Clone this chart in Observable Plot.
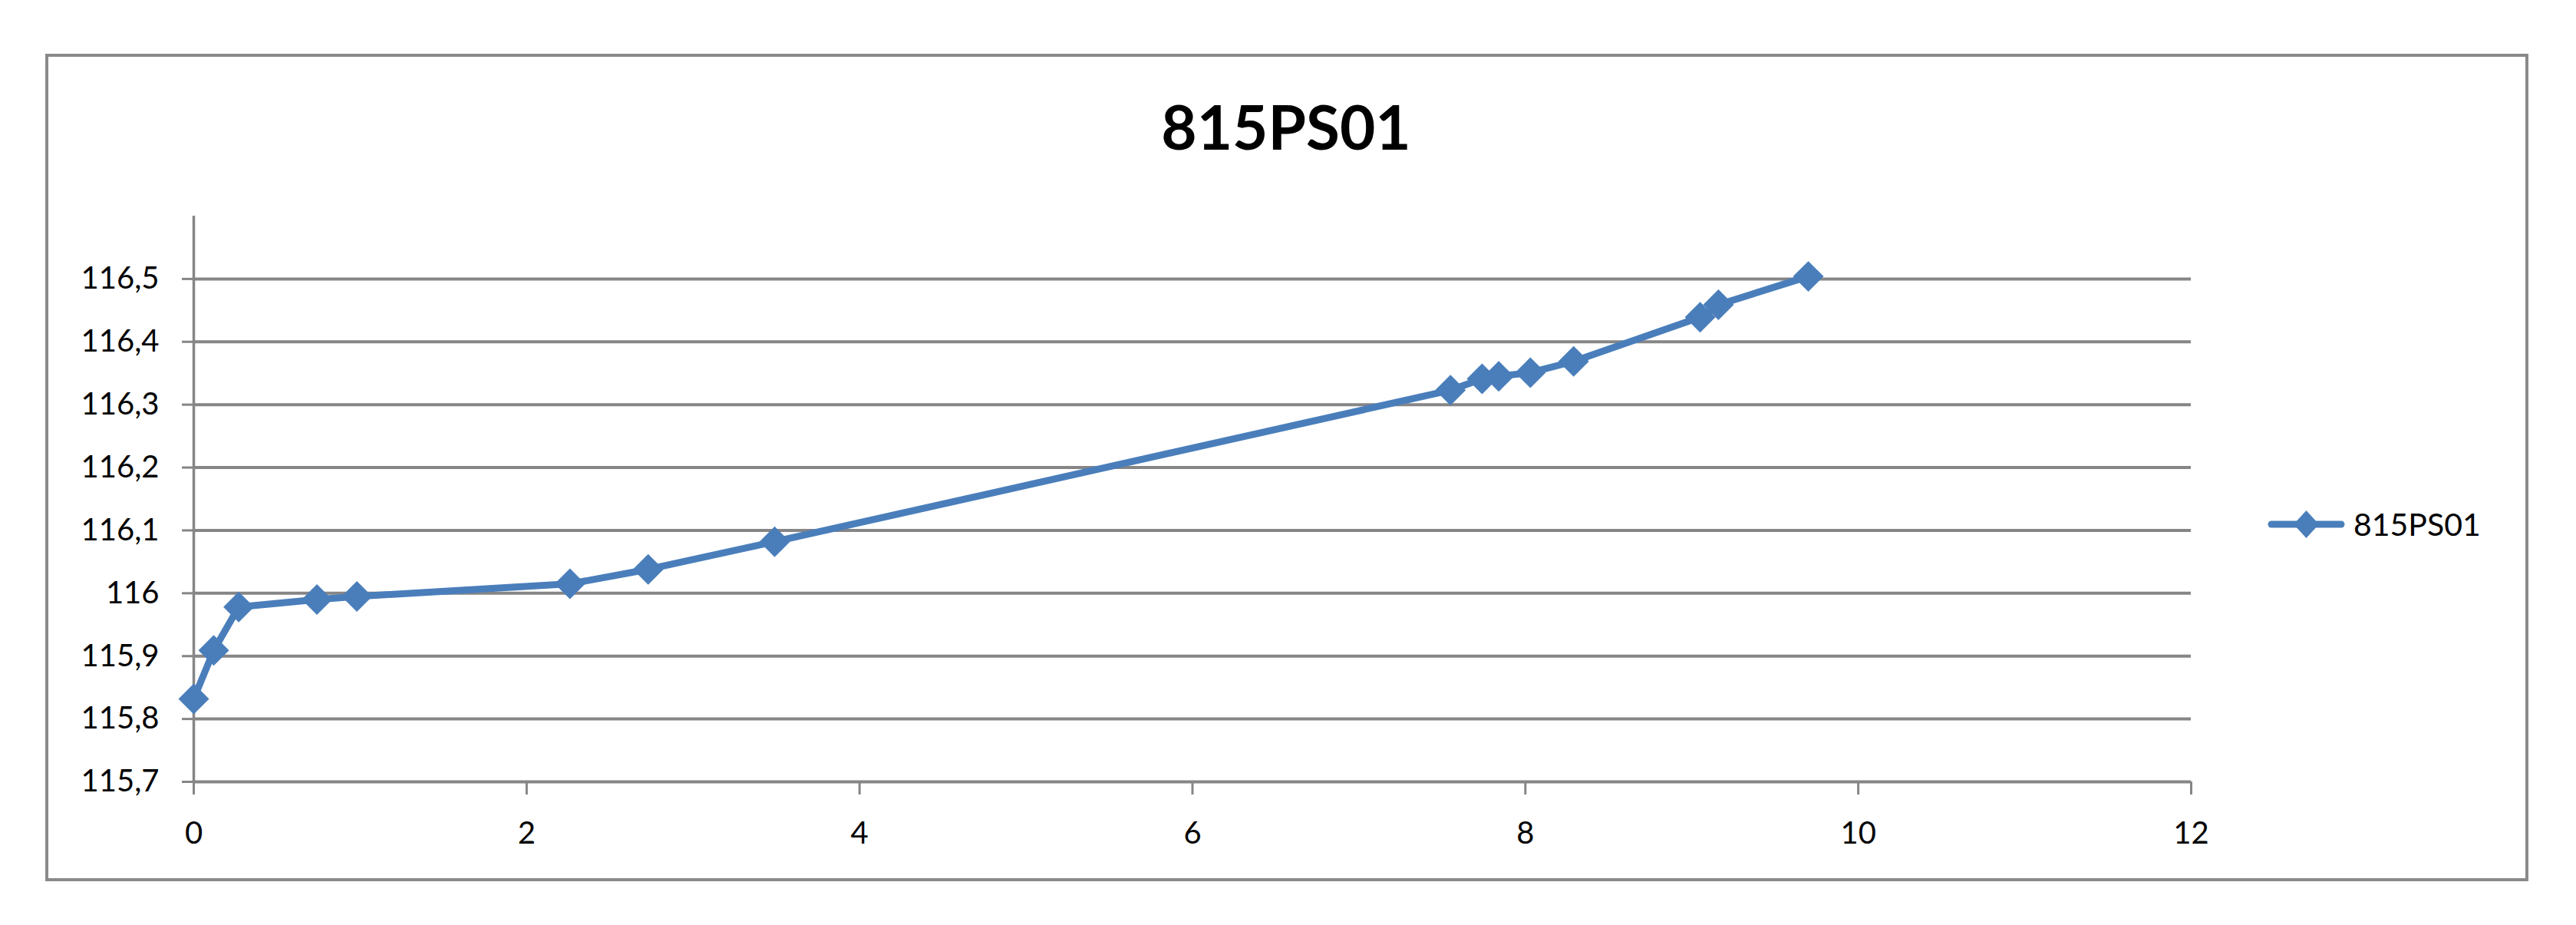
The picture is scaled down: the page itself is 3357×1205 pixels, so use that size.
<!DOCTYPE html>
<html>
<head>
<meta charset="utf-8">
<script src="https://cdn.jsdelivr.net/npm/d3@7"></script>
<script src="https://cdn.jsdelivr.net/npm/@observablehq/plot@0.6"></script>
<style>
  html, body { margin: 0; padding: 0; background: #ffffff; }
  #page { position: relative; width: 3357px; height: 1205px; font-family: Lato, "Open Sans", sans-serif; color: #000; }
  #frame { position: absolute; left: 59px; top: 70px; width: 3228px; height: 1070px; border: 4px solid #8a8a8a; }
  #title { position: absolute; left: 0; width: 3352px; top: 124px; text-align: center; font-size: 80px; line-height: 80px; font-weight: 700; }
  #chart { position: absolute; left: 0; top: 240px; }
  #legend { position: absolute; left: 2955px; top: 663px; height: 40px; display: flex; align-items: center; font-size: 41px; line-height: 40px; }
  #legend svg { display: block; margin-right: 11px; }
</style>
</head>
<body>
<div id="page">
  <div id="frame"></div>
  <div id="title"></div>
  <div id="chart"></div>
  <div id="legend"></div>
</div>
<script>
const seriesName = "815PS01";
const chartTitle = "815PS01";
const xValues = [0, 0.12, 0.27, 0.74, 0.98, 2.26, 2.73, 3.49, 7.55, 7.74, 7.84, 8.03, 8.29, 9.05, 9.16, 9.70];
const yValues = [115.832, 115.909, 115.978, 115.990, 115.995, 116.015, 116.038, 116.082, 116.323, 116.341, 116.345, 116.351, 116.369, 116.439, 116.459, 116.504];
const xTicks = [0, 2, 4, 6, 8, 10, 12];
const yTicks = [115.7, 115.8, 115.9, 116.0, 116.1, 116.2, 116.3, 116.4, 116.5];
const xDomain = [0, 12];
const yDomain = [115.7, 116.6];

const data = xValues.map((x, i) => ({x, y: yValues[i]}));
const blue = "#4A7EBB";
const gray = "#868686";
const fmtY = d => d.toFixed(1).replace(/\.0$/, "").replace(".", ",");

document.getElementById("title").textContent = chartTitle;

const chart = Plot.plot({
  width: 3357,
  height: 900,
  marginLeft: 252,
  marginRight: 502,
  marginTop: 41,
  marginBottom: 122,
  style: {background: "transparent", fontFamily: "Lato, 'Open Sans', sans-serif", fontSize: "40px", color: "#000"},
  x: {domain: xDomain, label: null},
  y: {domain: yDomain, label: null},
  marks: [
    Plot.gridY(yTicks, {stroke: gray, strokeOpacity: 1, strokeWidth: 4}),
    Plot.ruleX([0], {stroke: gray, strokeWidth: 3.5}),
    Plot.axisY({ticks: yTicks, tickSize: 15, tickPadding: 30, tickFormat: fmtY, stroke: gray, strokeWidth: 3, fontSize: 40, fill: "#000"}),
    Plot.axisX({ticks: xTicks, tickSize: 17, tickPadding: 35, tickFormat: d => String(d), stroke: gray, strokeWidth: 3, fontSize: 40, fill: "#000"}),
    Plot.line(data, {x: "x", y: "y", stroke: blue, strokeWidth: 9, strokeLinejoin: "round"}),
    Plot.dot(data, {x: "x", y: "y", symbol: "diamond2", r: 18, fill: blue, stroke: null})
  ]
});
document.getElementById("chart").appendChild(chart);

// legend
const legend = document.getElementById("legend");
const ns = "http://www.w3.org/2000/svg";
const sw = document.createElementNS(ns, "svg");
sw.setAttribute("width", 101);
sw.setAttribute("height", 40);
const ln = document.createElementNS(ns, "line");
ln.setAttribute("x1", 5); ln.setAttribute("x2", 96); ln.setAttribute("y1", 20); ln.setAttribute("y2", 20);
ln.setAttribute("stroke", blue); ln.setAttribute("stroke-width", 9); ln.setAttribute("stroke-linecap", "round");
sw.appendChild(ln);
const dm = document.createElementNS(ns, "path");
dm.setAttribute("d", "M50.5,2L67,20L50.5,38L34,20Z");
dm.setAttribute("fill", blue);
sw.appendChild(dm);
legend.appendChild(sw);
const lt = document.createElement("span");
lt.textContent = seriesName;
legend.appendChild(lt);
</script>
</body>
</html>
